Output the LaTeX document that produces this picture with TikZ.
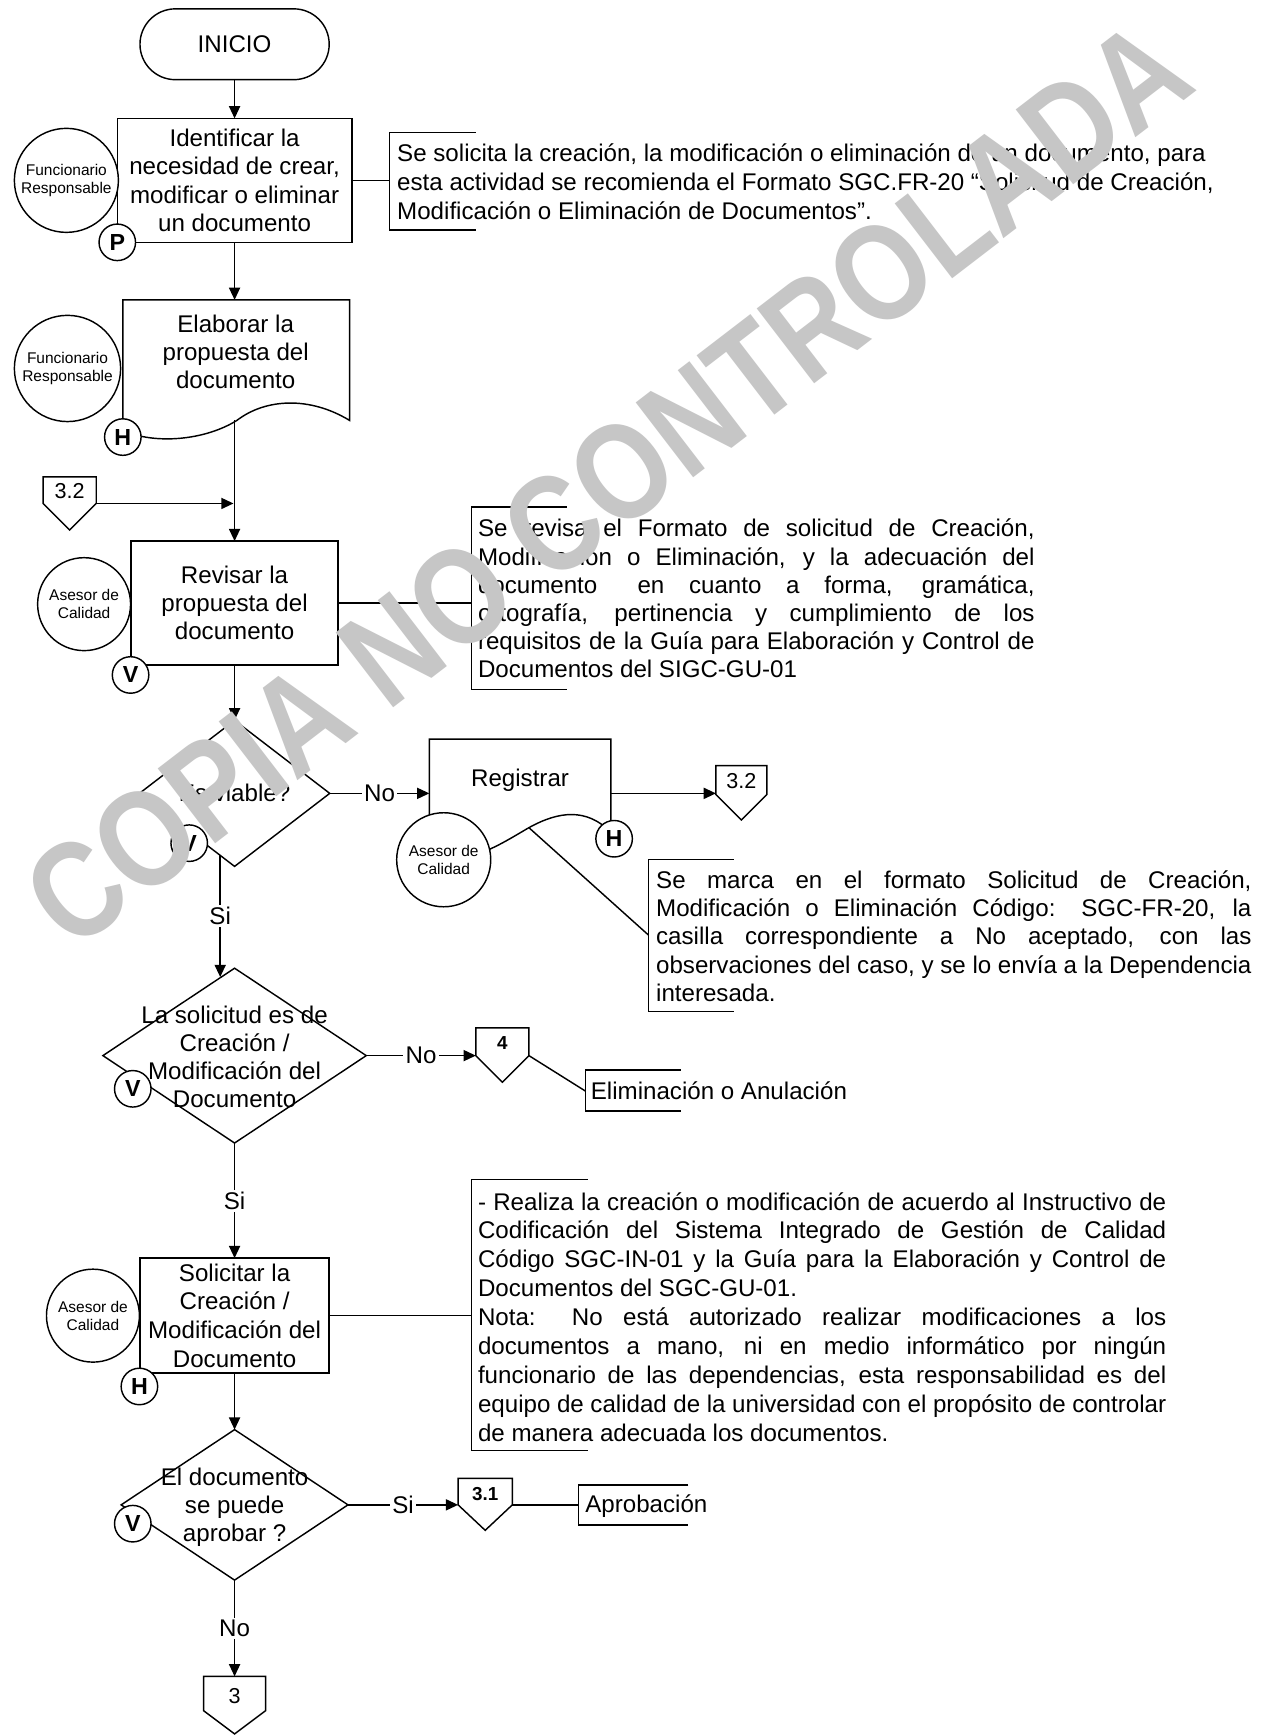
\documentclass[tikz,border=0pt]{standalone}
\usepackage{fontspec}
\setmainfont{Liberation Sans}
\newfontfamily\wmfont[FakeStretch=0.84]{Liberation Sans}
\usetikzlibrary{arrows.meta,shapes.geometric,calc}
\definecolor{wm}{RGB}{198,198,198}
\begin{document}
\begin{tikzpicture}[x=1pt,y=-1pt,
 every node/.style={inner sep=0pt,outer sep=0pt},
 txt/.style={font=\fontsize{21.8}{25.5}\selectfont,align=center},
 ln/.style={line width=1.3pt},
 arr/.style={ln,-{Triangle[length=11pt,width=10pt]}},
 box/.style={draw,ln,fill=white,rectangle},
 actor/.style={draw,ln,circle,fill=white,align=center,font=\fontsize{14}{16.5}\selectfont},
 mk/.style={draw,ln,circle,fill=white,minimum size=33pt,font=\bfseries\fontsize{21}{21}\selectfont},
 lbl/.style={fill=white,inner sep=2pt,font=\fontsize{21.8}{25.5}\selectfont},
 note/.style={align=left,font=\fontsize{21.8}{25.5}\selectfont},
 offl/.style={font=\fontsize{19.5}{19.5}\selectfont},
 offb/.style={font=\bfseries\fontsize{17}{17}\selectfont}]

\fill[white] (0,0) rectangle (1147,1568);
\useasboundingbox (0,0) rectangle (1147,1568);

% ---------- INICIO
\node[draw,ln,minimum width=171pt,minimum height=64pt,rounded corners=32pt,txt] (ini) at (212,40) {INICIO};

% ---------- Box 1
\node[box,minimum width=212pt,minimum height=112pt,txt] (b1) at (212,163) {Identificar la\\necesidad de crear,\\modificar o eliminar\\un documento};
\draw[arr] (ini) -- (b1);

% annotation 1
\draw[ln] (430,120) -- (352,120) -- (352,208) -- (430,208);
\node[note,anchor=west,font=\fontsize{21.8}{26}\selectfont] (n1) at (359,164) {Se solicita la creación, la modificación o eliminación de un documento, para\\esta actividad se recomienda el Formato SGC.FR-20 “Solicitud de Creación,\\Modificación o Eliminación de Documentos”.};
\coordinate (k1) at (352,163);
\draw[ln] (b1.east) -- (k1);

% ---------- Document 2
\draw[ln,fill=white] (111,271) -- (316,271) -- (316,380) .. controls (280,358) and (240,360) .. (214,380) .. controls (185,398) and (140,402) .. (111,389) -- cycle;
\node[txt] (b2) at (213,318) {Elaborar la\\propuesta del\\documento};
\coordinate (b2t) at (212,271);
\coordinate (b2o) at (212,380);
\draw[arr] (b1) -- (b2t);

% ---------- off-page 3.2 (left)
\draw[ln,fill=white] (39,431) -- (87,431) -- (87,455) -- (63,479) -- (39,455) -- cycle;
\node[offl] (c1) at (63,444) {3.2};
\coordinate (c1o) at (87,455);
\coordinate (j1) at (211,455);
\draw[arr] (c1o) -- (j1);

% ---------- Box 3
\node[box,minimum width=187pt,minimum height=112pt,txt] (b3) at (212,545) {Revisar la\\propuesta del\\documento};
\draw[arr] (b2o) -- (b3);

% annotation 2
\draw[ln] (512,458) -- (426,458) -- (426,623) -- (512,623);
\node[note,anchor=west] (n2) at (432,541) {\makebox[503pt][s]{Se revisa el Formato de solicitud de Creación,}\\
\makebox[503pt][s]{Modificación o Eliminación, y la adecuación del}\\
\makebox[503pt][s]{documento\hspace{14pt} en cuanto a forma, gramática,}\\
\makebox[503pt][s]{ortografía, pertinencia y cumplimiento de los}\\
\makebox[503pt][s]{requisitos de la Guía para Elaboración y Control de}\\
Documentos del SIGC-GU-01};
\coordinate (k2) at (426,545);
\draw[ln] (b3.east) -- (k2);

% ---------- Diamond 1
\node[draw,ln,diamond,minimum width=172pt,minimum height=132pt,fill=white] (d1) at (212,717) {};
\node[txt] (d1t) at (212,717) {Es viable?};
\draw[arr] (b3) -- (d1);

% ---------- Registrar
\node[minimum width=164pt,minimum height=98pt] (reg) at (470,717) {};
\draw[ln,fill=white] (388,668) -- (552,668) -- (552,752) .. controls (530,730) and (505,733) .. (478,748) .. controls (452,763) and (420,785) .. (388,772) -- cycle;
\node[txt] (regt) at (470,705) {Registrar};
\draw[arr] (d1.east) -- node[lbl] {No} (reg.west);

% off-page 3.2 (right)
\draw[ln,fill=white] (647,692) -- (693,692) -- (693,718) -- (670,741) -- (647,718) -- cycle;
\node[offl] (c2) at (670,706) {3.2};
\coordinate (c2i) at (647,717);
\draw[arr] (reg.east) -- (c2i);

% annotation 3
\coordinate (w1) at (478,748);
\coordinate (k3) at (586,845);
\draw[ln] (w1) -- (k3);
\draw[ln] (663,777) -- (586,777) -- (586,914) -- (663,914);
\node[note,anchor=west] (n3) at (593,846) {\makebox[538pt][s]{Se marca en el formato Solicitud de Creación,}\\
\makebox[538pt][s]{Modificación o Eliminación Código: SGC-FR-20, la}\\
\makebox[538pt][s]{casilla correspondiente a No aceptado, con las}\\
\makebox[538pt][s]{observaciones del caso, y se lo envía a la Dependencia}\\
interesada.};

% ---------- Diamond 2
\node[draw,ln,diamond,minimum width=238pt,minimum height=158pt,fill=white] (d2) at (212,954) {};
\node[txt] (d2t) at (212,955) {La solicitud es de\\Creación /\\Modificación del\\Documento};
\coordinate (s1a) at (199,773);
\coordinate (s1b) at (199,883);
\draw[arr] (s1a) -- node[lbl] {Si} (s1b);

% off-page 4
\draw[ln,fill=white] (430,929) -- (478,929) -- (478,954) -- (454,978) -- (430,954) -- cycle;
\node[offb] (c3) at (454,943) {4};
\coordinate (c3i) at (430,954);
\coordinate (c3o) at (478,954);
\draw[arr] (d2.east) -- node[lbl] {No} (c3i);
\coordinate (k5) at (529,986);
\draw[ln] (c3o) -- (k5);
\draw[ln] (615,967) -- (529,967) -- (529,1004) -- (615,1004);
\node[note,anchor=west] (n5) at (534,986) {Eliminación o Anulación};

% ---------- Box 4
\node[box,minimum width=171pt,minimum height=104pt,txt,font=\fontsize{21.8}{26}\selectfont] (b4) at (212,1189) {Solicitar la\\Creación /\\Modificación del\\Documento};
\draw[arr] (d2.south) -- node[lbl] {Si} (b4);

% annotation 4
\coordinate (k4) at (426,1189);
\draw[ln] (b4.east) -- (k4);
\draw[ln] (531,1066) -- (426,1066) -- (426,1311) -- (531,1311);
\node[note,anchor=west,font=\fontsize{21.8}{26.1}\selectfont] (n4) at (432,1190) {\makebox[622pt][s]{- Realiza la creación o modificación de acuerdo al Instructivo de}\\
\makebox[622pt][s]{Codificación del Sistema Integrado de Gestión de Calidad}\\
\makebox[622pt][s]{Código SGC-IN-01 y la Guía para la Elaboración y Control de}\\
Documentos del SGC-GU-01.\\
\makebox[622pt][s]{Nota: No está autorizado realizar modificaciones a los}\\
\makebox[622pt][s]{documentos a mano, ni en medio informático por ningún}\\
\makebox[622pt][s]{funcionario de las dependencias, esta responsabilidad es del}\\
\makebox[622pt][s]{equipo de calidad de la universidad con el propósito de controlar}\\
de manera adecuada los documentos.};

% ---------- Diamond 3
\node[draw,ln,diamond,minimum width=205pt,minimum height=136pt,fill=white] (d3) at (212,1360) {};
\node[txt] (d3t) at (212,1362) {El documento\\se puede\\aprobar ?};
\draw[arr] (b4) -- (d3);

% off-page 3.1
\draw[ln,fill=white] (414,1336) -- (463,1336) -- (463,1360) -- (438.5,1383) -- (414,1360) -- cycle;
\node[offb] (c4) at (438.5,1350) {3.1};
\coordinate (c4i) at (414,1360);
\coordinate (c4o) at (463,1360);
\draw[arr] (d3.east) -- node[lbl] {Si} (c4i);
\coordinate (k6) at (523,1360);
\draw[ln] (c4o) -- (k6);
\draw[ln] (622,1342) -- (523,1342) -- (523,1378) -- (622,1378);
\node[note,anchor=west] (n6) at (529,1361) {Aprobación};

% off-page 3
\draw[ln,fill=white] (184,1515) -- (240,1515) -- (240,1546) -- (212,1567) -- (184,1546) -- cycle;
\node[offl] (c5) at (212,1533) {3};
\coordinate (c5i) at (212,1515);
\draw[arr] (d3.south) -- node[lbl] {No} (c5i);

% ---------- actors and markers
\node[actor,minimum size=94pt] (a1) at (60,163) {Funcionario\\Responsable};
\node[mk] (p1) at (106,219) {P};
\node[actor,minimum size=96pt] (a2) at (61,333) {Funcionario\\Responsable};
\node[mk] (h1) at (111,395) {H};
\node[actor,minimum size=84pt] (a3) at (76,546) {Asesor de\\Calidad};
\node[mk] (v1) at (118,610) {V};
\node[mk] (v2) at (171,762) {V};
\node[actor,minimum size=85pt] (a4) at (401,777) {Asesor de\\Calidad};
\node[mk] (h2) at (555,758) {H};
\node[mk] (v3) at (120,984) {V};
\node[actor,minimum size=84pt] (a5) at (84,1189) {Asesor de\\Calidad};
\node[mk] (h3) at (126,1253) {H};
\node[mk] (v4) at (120,1377) {V};

% ---------- watermark
\node[rotate=37.5,text=wm,font=\wmfont\bfseries\fontsize{124}{124}\selectfont] (wmk) at (549,437) {COPIA NO CONTROLADA};
\end{tikzpicture}
\end{document}
